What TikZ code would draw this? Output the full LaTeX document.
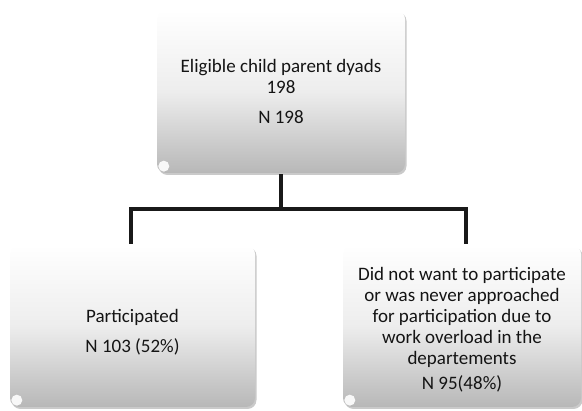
\documentclass[tikz,border=0pt]{standalone}
\usepackage{fontspec}
\setmainfont{Carlito}
\usetikzlibrary{shadows}
\tikzset{
  box/.style={rounded corners=9pt, draw=none, top color=white, bottom color=black!28,
    middle color=black!7, shading angle=0,
    drop shadow={shadow xshift=1.5pt, shadow yshift=-2pt, opacity=0.35, fill=black!60},
    align=center, font=\fontsize{19}{21}\selectfont, text=black!92, inner sep=0pt},
  conn/.style={line width=4pt, draw=black!90},
  gloss/.style={fill=white, opacity=0.9}
}
\begin{document}
\begin{tikzpicture}[x=1pt,y=1pt]
\useasboundingbox (0,0) rectangle (582,411);
\node[box, minimum width=248pt, minimum height=163pt] (top) at (281,319.5)
  {Eligible child parent dyads\\198\\[9pt]N 198};
\node[box, minimum width=245pt, minimum height=162pt] (left) at (132.5,85)
  {\rule{0pt}{25pt}Participated\\[9pt]N 103 (52\%)};
\node[box, minimum width=238pt, minimum height=162pt] (right) at (462,85)
  {\rule{0pt}{20pt}Did not want to participate\\or was never approached\\for participation due to\\work overload in the\\departements\\[4pt]N 95(48\%)};
\foreach \b in {top,left,right}{
  \fill[gloss] ([shift={(7,7)}]\b.south west) circle (5.5pt);
}
\coordinate (mid) at (281,202);
\draw[conn] ([yshift=-1pt]top.south) -- (mid);
\draw[conn] (mid) -| ([xshift=-1.5pt,yshift=1pt]left.north);
\draw[conn] (mid) -| ([xshift=4pt,yshift=1pt]right.north);
\end{tikzpicture}
\end{document}
